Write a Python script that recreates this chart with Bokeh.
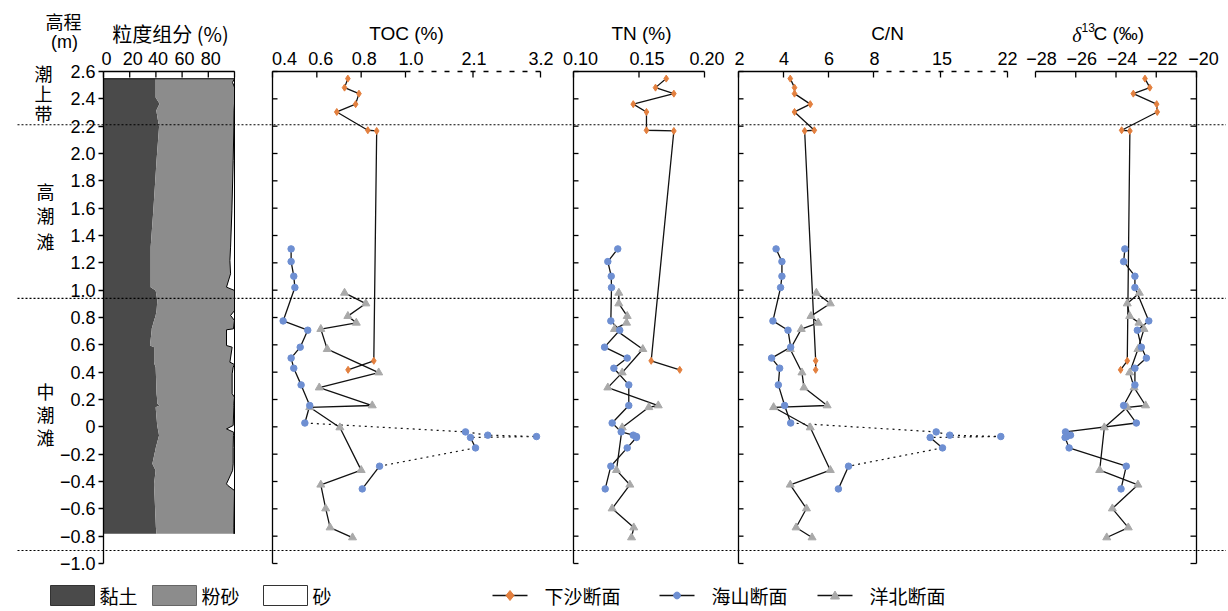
import numpy as np
from bokeh.plotting import figure
from bokeh.models import Range1d, FixedTicker
from bokeh.core.properties import value
from bokeh.embed import file_html
from bokeh.resources import INLINE

# ---------------- data ----------------
# grain size (elevation m, clay %, sand %); silt = remainder
grain_elev = [2.547, 2.52, 2.485, 2.41, 2.364, 2.315, 2.193, 1.95, 1.58, 1.315, 1.217, 1.12,
              1.022, 0.998, 0.925, 0.85, 0.815, 0.778, 0.717, 0.71, 0.595, 0.583, 0.473,
              0.456, 0.437, 0.388, 0.242, 0.217, 0.168, 0.156, 0.144, 0.01, -0.015, -0.04,
              -0.064, -0.15, -0.271, -0.32, -0.417, -0.43, -0.466, -0.734, -0.783]
grain_clay = [39.8, 39.8, 39.8, 39.8, 42.8, 40.3, 42.4, 40.5, 38.0, 36.0, 36.0, 36.0,
              36.0, 39.8, 41.1, 40.5, 39.8, 38.6, 36.8, 36.8, 35.5, 38.6, 38.6,
              39.0, 39.8, 40.0, 40.5, 40.8, 41.1, 42.8, 39.8, 41.0, 41.5, 42.0,
              42.4, 40.0, 37.3, 39.8, 38.6, 38.6, 38.8, 40.0, 40.4]
grain_sand = [0, 1.5, 0, 0, 0, 0.3, 0.5, 1.0, 2.0, 3.0, 3.5, 3.0,
              6.1, 0, 0, 0, 3.0, 0, 0.8, 6.1, 6.1, 1.8, 3.5,
              0, 1.0, 1.8, 1.8, 0, 0.5, 0.5, 0.5, 1.0, 6.1, 0.5,
              0.8, 1.0, 1.0, 1.5, 6.1, 5.0, 0, 0.5, 0.5]

# 下沙断面
xs_elev = [2.548, 2.482, 2.438, 2.361, 2.304, 2.170, 2.165, 0.483, 0.417]
xs_toc = [0.74, 0.725, 0.79, 0.775, 0.69, 0.83, 0.87, 0.857, 0.741]
xs_tn = [0.1708, 0.1626, 0.1766, 0.1456, 0.1557, 0.1557, 0.1766, 0.1593, 0.1811]
xs_cn = [4.30, 4.49, 4.49, 5.19, 4.49, 5.37, 4.94, 5.43, 5.43]
xs_d13c = [-22.56, -22.32, -23.14, -21.98, -21.95, -23.72, -23.31, -23.44, -23.77]

# 海山断面
hs_elev = [1.302, 1.209, 1.102, 1.019, 0.775, 0.707, 0.583, 0.503, 0.429, 0.307, 0.156,
           0.028, -0.037, -0.061, -0.071, -0.078, -0.154, -0.288, -0.454]
hs_toc = [0.484, 0.484, 0.496, 0.501, 0.448, 0.559, 0.525, 0.484, 0.496, 0.529, 0.568,
          0.546, 1.978, 2.341, 3.135, 2.059, 2.141, 0.883, 0.805]
hs_tn = [0.1338, 0.1262, 0.1288, 0.1290, 0.1285, 0.1353, 0.1237, 0.1410, 0.1308, 0.1422, 0.1422,
         0.1295, 0.1364, 0.1456, 0.1480, 0.1480, 0.1410, 0.1285, 0.1242]
hs_cn = [3.67, 3.93, 3.93, 3.87, 3.53, 4.20, 4.32, 3.47, 3.83, 3.77, 4.05,
         4.32, 14.55, 15.97, 21.30, 13.92, 15.21, 6.89, 6.44]
hs_d13c = [-23.56, -23.62, -23.06, -23.06, -22.37, -22.94, -22.74, -22.49, -23.06, -23.06, -23.62,
           -22.99, -26.51, -26.26, -26.45, -26.53, -26.33, -23.49, -23.75]

# 洋北断面
yb_elev = [0.980, 0.902, 0.810, 0.761, 0.715, 0.568, 0.397, 0.287, 0.156, 0.143, -0.005,
           -0.317, -0.424, -0.598, -0.737, -0.810]
yb_toc = [0.725, 0.821, 0.740, 0.778, 0.618, 0.647, 0.879, 0.611, 0.850, 0.568, 0.704,
          0.800, 0.618, 0.640, 0.660, 0.761]
yb_tn = [0.1346, 0.1346, 0.1410, 0.1405, 0.1313, 0.1529, 0.1372, 0.1262, 0.1647, 0.1575, 0.1372,
         0.1328, 0.1430, 0.1295, 0.1460, 0.1443]
yb_cn = [5.46, 6.08, 5.22, 5.54, 4.79, 4.30, 4.82, 4.91, 5.94, 3.56, 5.19,
         6.08, 4.30, 5.02, 4.56, 5.27]
yb_d13c = [-22.84, -23.44, -23.32, -22.86, -22.61, -22.91, -23.32, -23.10, -22.53, -23.44, -24.58,
           -24.81, -22.91, -24.18, -23.39, -24.46]

# axis ticks / labels
grain_ticks = [0, 20, 40, 60, 80, 100]
grain_labels = ["0", "20", "40", "60", "80", ""]
toc_ticks = [0.4, 0.6, 0.8, 1.0, 2.1, 3.2]
toc_labels = ["0.4", "0.6", "0.8", "1.0", "2.1", "3.2"]
tn_ticks = [0.10, 0.15, 0.20]
tn_labels = ["0.10", "0.15", "0.20"]
cn_ticks = [2, 4, 6, 8, 15, 22]
cn_labels = ["2", "4", "6", "8", "15", "22"]
d13c_ticks = [-28, -26, -24, -22, -20]
d13c_labels = ["\u221228", "\u221226", "\u221224", "\u221222", "\u221220"]
zone_lines = [2.21, 0.94, -0.905]
zone_names = ["潮上带", "高潮滩", "中潮滩"]
grain_legend = ["黏土", "粉砂", "砂"]
series_names = ["下沙断面", "海山断面", "洋北断面"]

# ---------------- layout ----------------
W, H = 1226, 611
BL, BR, BT, BB = 103, 30, 71, 48
FW = W - BL - BR
FH = H - BT - BB
Y0, Y1 = -1.0, 2.6
PPM = FH / (Y1 - Y0)
FONT = "Liberation Sans"
CJK = "Noto Sans CJK SC"
# horizontal nudges (px) of the top tick labels, as placed in the original figure
LABEL_DX = {"grain": [3, 3, 2, 2.5, 2.5, 0], "toc": [12, 4, 3, 5.5, 1, 0.5],
            "tn": [7, 8, 2.5], "cn": [1, 0.5, 0.5, 1, 1.5, 0], "d13c": [6, 6, 6, 6, 7]}


def ey(page_y):
    return Y1 - (page_y - BT) / PPM


def fx(page_x):
    return page_x - BL


# panel geometry: value breakpoints -> frame pixel positions (TOC and C/N have broken scales)
GEOM = {
    "grain": ([0, 100], [0, 131]),
    "toc": ([0.4, 1.0, 3.2], [169, 302, 437]),
    "tn": ([0.10, 0.20], [470, 601]),
    "cn": ([2, 8, 22], [635, 770, 904]),
    "d13c": ([-28, -20], [932, 1093]),
}


def slope(name):
    vs, ps = GEOM[name]
    return (ps[1] - ps[0]) / (vs[1] - vs[0])


def tc(name, vals):
    """panel value -> coordinate of the panel's (unbroken) range"""
    vs, ps = GEOM[name]
    px = np.interp(np.asarray(vals, dtype=float), vs, ps)
    return vs[0] + (px - ps[0]) / slope(name)


def px_of(name, vals):
    vs, ps = GEOM[name]
    return np.interp(np.asarray(vals, dtype=float), vs, ps)


p = figure(width=W, height=H, x_range=Range1d(0, FW), y_range=Range1d(Y0, Y1),
           x_axis_location=None, output_backend="svg", toolbar_location=None,
           min_border_left=BL, min_border_right=BR, min_border_top=BT, min_border_bottom=BB,
           title=None)
p.outline_line_color = None
p.xgrid.visible = False
p.ygrid.visible = False
p.background_fill_color = "white"

extra = {}
for name in GEOM:
    vs, ps = GEOM[name]
    s = slope(name)
    extra[name] = Range1d(vs[0] - ps[0] / s, vs[0] + (FW - ps[0]) / s)
p.extra_x_ranges = extra


def txt(texts, xs, ys, size="18px", font=CJK, align="center", style="normal",
        baseline="middle"):
    p.text(x=list(xs), y=list(ys), text=list(texts),
           text_align=align, text_baseline=baseline, text_font=value(font),
           text_font_size=value(size), text_font_style=style, text_color="black",
           level="overlay")


# ---- top scales: lines, inward ticks, labels ----
TICK = 6 / PPM
for name, ticks, labels in [("grain", grain_ticks, grain_labels), ("toc", toc_ticks, toc_labels),
                            ("tn", tn_ticks, tn_labels), ("cn", cn_ticks, cn_labels),
                            ("d13c", d13c_ticks, d13c_labels)]:
    vs, ps = GEOM[name]
    p.segment(x0=[ps[0]], y0=[Y1], x1=[ps[1]], y1=[Y1], line_color="black",
              line_width=1.3, level="overlay")
    if len(vs) == 3:
        p.segment(x0=[ps[1]], y0=[Y1], x1=[ps[2]], y1=[Y1], line_color="black",
                  line_width=1.3, line_dash="5 8", level="overlay")
    tx = px_of(name, ticks)
    p.segment(x0=tx, y0=[Y1] * len(tx), x1=tx, y1=[Y1 - TICK] * len(tx), line_color="black",
              line_width=1.3, level="overlay")
    keep = [i for i, l in enumerate(labels) if l]
    txt([labels[i] for i in keep], [tx[i] + LABEL_DX[name][i] for i in keep],
        [ey(57.5)] * len(keep), font=FONT)

# ---- left axis ----
yticks = []
for i in range(19):
    v = round(Y1 - 0.2 * i, 1)
    yticks.append(int(v) if float(v).is_integer() else v)
yover = {}
for v in yticks:
    yover[v] = "0" if v == 0 else ("%.1f" % v).replace("-", "\u2212")
ya = p.yaxis[0]
ya.ticker = FixedTicker(ticks=yticks)
ya.major_label_overrides = yover
ya.major_tick_out = 5
ya.major_tick_in = 0
ya.major_tick_line_width = 1.3
ya.axis_line_width = 1.3
ya.minor_tick_line_color = None
ya.major_label_standoff = 3
ya.major_label_text_font = FONT
ya.major_label_text_font_size = "18px"
ya.major_label_text_color = "black"

# vertical axes of the other panels (TOC, TN, C/N left edges; δ13C right edge), inward ticks
for x0, d in [(float(px_of("toc", [0.4])[0]), 5), (float(px_of("tn", [0.10])[0]), 5),
              (float(px_of("cn", [2])[0]), 5), (float(FW), -6)]:
    p.segment(x0=[x0], y0=[Y0], x1=[x0], y1=[Y1], line_color="black", line_width=1.3,
              level="overlay")
    p.segment(x0=[x0] * len(yticks), y0=yticks, x1=[x0 + d] * len(yticks), y1=yticks,
              line_color="black", line_width=1.3, level="overlay")

# ---- grain-size panel ----
clay = np.array(grain_clay)
sand = np.array(grain_sand)
silt_right = 100 - sand
p.harea(y=grain_elev, x1=np.zeros(len(clay)), x2=clay, fill_color="#4a4a4a", x_range_name="grain")
p.harea(y=grain_elev, x1=clay, x2=silt_right, fill_color="#8c8c8c", x_range_name="grain")
p.line(x=silt_right, y=grain_elev, line_color="black", line_width=1.0, x_range_name="grain")
p.line(x=[100, 100], y=[Y1, grain_elev[-1]], line_color="black", line_width=1.0,
       x_range_name="grain", level="overlay")
p.line(x=[0, 100], y=[grain_elev[0], grain_elev[0]], line_color="black", line_width=1.0,
       x_range_name="grain")

# ---- zone dotted lines ----
p.segment(x0=[fx(17)] * 3, y0=zone_lines, x1=[fx(1228)] * 3, y1=zone_lines,
          line_color="black", line_width=1.1, line_dash="2 2", level="overlay")

# ---- profiles ----
LC = "#111111"
LW = 1.3
C_XS, C_HS, C_YB = "#E3803F", "#6E8FD2", "#A9A9A9"
for name, xsv, hsv, ybv in [("toc", xs_toc, hs_toc, yb_toc), ("tn", xs_tn, hs_tn, yb_tn),
                            ("cn", xs_cn, hs_cn, yb_cn), ("d13c", xs_d13c, hs_d13c, yb_d13c)]:
    p.line(x=tc(name, ybv), y=yb_elev, line_color=LC, line_width=LW, x_range_name=name)
    hx = tc(name, hsv)
    if name in ("toc", "cn"):
        p.line(x=hx[:12], y=hs_elev[:12], line_color=LC, line_width=LW, x_range_name=name)
        p.line(x=hx[11:16], y=hs_elev[11:16], line_color=LC, line_width=1.2, line_dash="2 4",
               x_range_name=name)
        p.line(x=hx[15:17], y=hs_elev[15:17], line_color=LC, line_width=LW, x_range_name=name)
        p.line(x=hx[16:18], y=hs_elev[16:18], line_color=LC, line_width=1.2, line_dash="2 4",
               x_range_name=name)
        p.line(x=hx[17:], y=hs_elev[17:], line_color=LC, line_width=LW, x_range_name=name)
    else:
        p.line(x=hx, y=hs_elev, line_color=LC, line_width=LW, x_range_name=name)
    p.line(x=tc(name, xsv), y=xs_elev, line_color=LC, line_width=LW, x_range_name=name)

for name, xsv, hsv, ybv in [("toc", xs_toc, hs_toc, yb_toc), ("tn", xs_tn, hs_tn, yb_tn),
                            ("cn", xs_cn, hs_cn, yb_cn), ("d13c", xs_d13c, hs_d13c, yb_d13c)]:
    p.scatter(x=tc(name, ybv), y=yb_elev, marker="triangle", size=8, fill_color=C_YB,
              line_color=C_YB, x_range_name=name)
    p.scatter(x=tc(name, hsv), y=hs_elev, marker="circle", size=6.5, fill_color=C_HS,
              line_color=C_HS, x_range_name=name)
    p.scatter(x=tc(name, xsv), y=xs_elev, marker="diamond", size=7, fill_color=C_XS,
              line_color=C_XS, x_range_name=name)

# ---- titles and zone names ----
txt(["高程"], [fx(63)], [ey(20)])
txt(["(m)"], [fx(64)], [ey(41)], font=FONT)
txt(["粒度组分 (%)"], [fx(170)], [ey(33)], size="20px")
txt(["TOC (%)", "TN (%)", "C/N"], [fx(406), fx(641), fx(887)], [ey(33)] * 3, size="19px",
    font=FONT)
txt(["\u03b4"], [fx(1081)], [ey(34)], size="20px", font="Liberation Serif", align="right",
    style="italic")
txt(["13"], [fx(1081)], [ey(27)], size="12px", font=FONT, align="left")
txt(["C (\u2030)"], [fx(1093)], [ey(33)], size="19px", font=FONT, align="left")

txt(list(zone_names[0]), [fx(43)] * 3, [ey(v) for v in (72, 92, 112)])
txt(list(zone_names[1]), [fx(45)] * 3, [ey(v) for v in (190, 214, 240)])
txt(list(zone_names[2]), [fx(45)] * 3, [ey(v) for v in (390, 413, 436)])

# ---- legend (drawn below the plot frame) ----
LEG_Y = 595
sq_left = [50, 152, 263]
SQ_W = 44
p.quad(left=[fx(v) for v in sq_left], right=[fx(v + SQ_W) for v in sq_left],
       top=[ey(LEG_Y - 10)] * 3, bottom=[ey(LEG_Y + 10)] * 3,
       fill_color=["#4a4a4a", "#8c8c8c", "white"], line_color=["#333333", "#666666", "#333333"],
       line_width=1, level="overlay")
txt(grain_legend, [fx(v + SQ_W + 5) for v in sq_left], [ey(LEG_Y)] * 3, size="19px",
    align="left")

ln_left = [492, 659, 817]
LN_W = 35
ang = np.linspace(0, 2 * np.pi, 17)[:-1]
shapes = [(np.array([0, 4, 0, -4]), np.array([5, 0, -5, 0])),            # diamond
          (3.4 * np.cos(ang), 3.4 * np.sin(ang)),                          # circle
          (np.array([-4.5, 4.5, 0]), np.array([-3.5, -3.5, 4.5]))]        # triangle
for x0, col, (sx, sy) in zip(ln_left, [C_XS, C_HS, C_YB], shapes):
    p.line(x=[fx(x0), fx(x0 + LN_W)], y=[ey(LEG_Y)] * 2, line_color=LC, line_width=LW,
           level="overlay")
    p.patch(x=fx(x0 + LN_W / 2) + sx, y=ey(LEG_Y) + sy / PPM, fill_color=col, line_color=col,
            level="overlay")
txt(series_names, [fx(v + 52) for v in ln_left], [ey(LEG_Y)] * 3, size="19px", align="left")

open("out.html", "w").write(file_html(p, INLINE))
